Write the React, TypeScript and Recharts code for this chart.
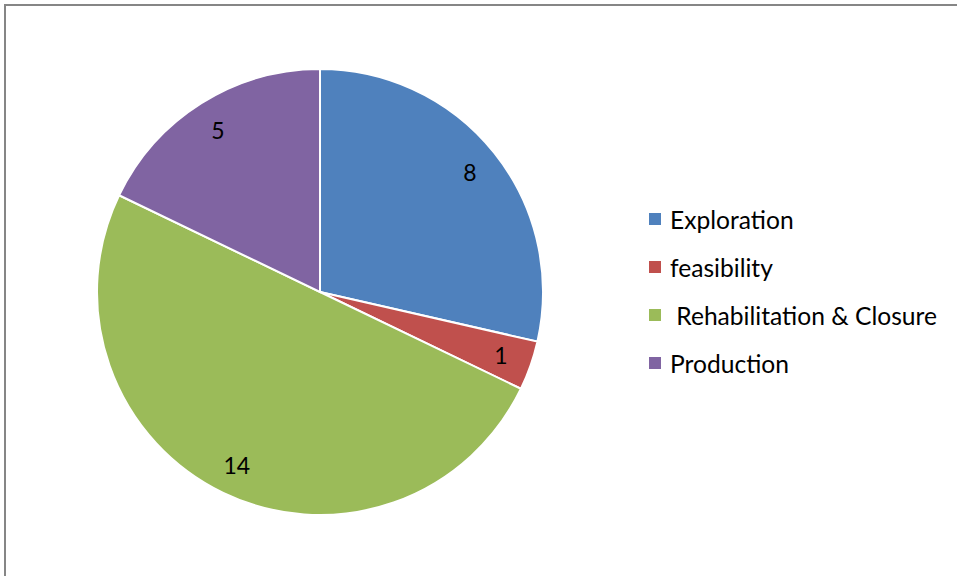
import { PieChart, Pie, Cell, Legend } from 'recharts'

const categories = ['Exploration', 'feasibility', ' Rehabilitation & Closure', 'Production']
const counts = [8, 1, 14, 5]
const colors = ['#4F81BD', '#C0504D', '#9BBB59', '#8064A2']

const data = categories.map((name, i) => ({ name, value: counts[i] }))

const RADIAN = Math.PI / 180
const FONT = 'Lato, "Open Sans", sans-serif'

const renderLabel = (props: any) => {
  const { cx, cy, midAngle, outerRadius, value } = props
  const r = outerRadius * 0.86
  const x = cx + r * Math.cos(-midAngle * RADIAN)
  const y = cy + r * Math.sin(-midAngle * RADIAN)
  return (
    <text x={x} y={y} fill="#000" textAnchor="middle" dominantBaseline="central" fontSize={23} fontFamily={FONT}>
      {value}
    </text>
  )
}

const renderLegend = () => (
  <div style={{ fontFamily: FONT, fontSize: 24.6, color: '#000' }}>
    {data.map((d, i) => (
      <div key={d.name} style={{ display: 'flex', alignItems: 'center', height: 48 }}>
        <span style={{ width: 12, height: 12, background: colors[i], marginRight: 9, display: 'inline-block' }} />
        <span style={{ whiteSpace: 'pre' }}>{d.name}</span>
      </div>
    ))}
  </div>
)

export default function App() {
  return (
    <div style={{ position: 'absolute', left: 0, top: 0, width: 957, height: 576, overflow: 'hidden', background: '#fff' }}>
      <div
        style={{
          position: 'absolute',
          left: 4,
          top: 4,
          width: 960,
          height: 580,
          borderTop: '2px solid #868686',
          borderLeft: '2px solid #868686',
        }}
      />
      <PieChart
        width={957}
        height={576}
        margin={{ top: 0, right: 0, bottom: 0, left: 0 }}
        style={{ position: 'absolute', left: 0, top: 0 }}
      >
        <Pie
          data={data}
          dataKey="value"
          nameKey="name"
          cx={320}
          cy={292}
          outerRadius={223}
          startAngle={90}
          endAngle={-270}
          stroke="#fff"
          strokeWidth={2}
          label={renderLabel}
          labelLine={false}
          isAnimationActive={false}
        >
          {data.map((d, i) => (
            <Cell key={d.name} fill={colors[i]} />
          ))}
        </Pie>
        <Legend content={renderLegend} wrapperStyle={{ left: 649, top: 195, width: 308 }} />
      </PieChart>
    </div>
  )
}
